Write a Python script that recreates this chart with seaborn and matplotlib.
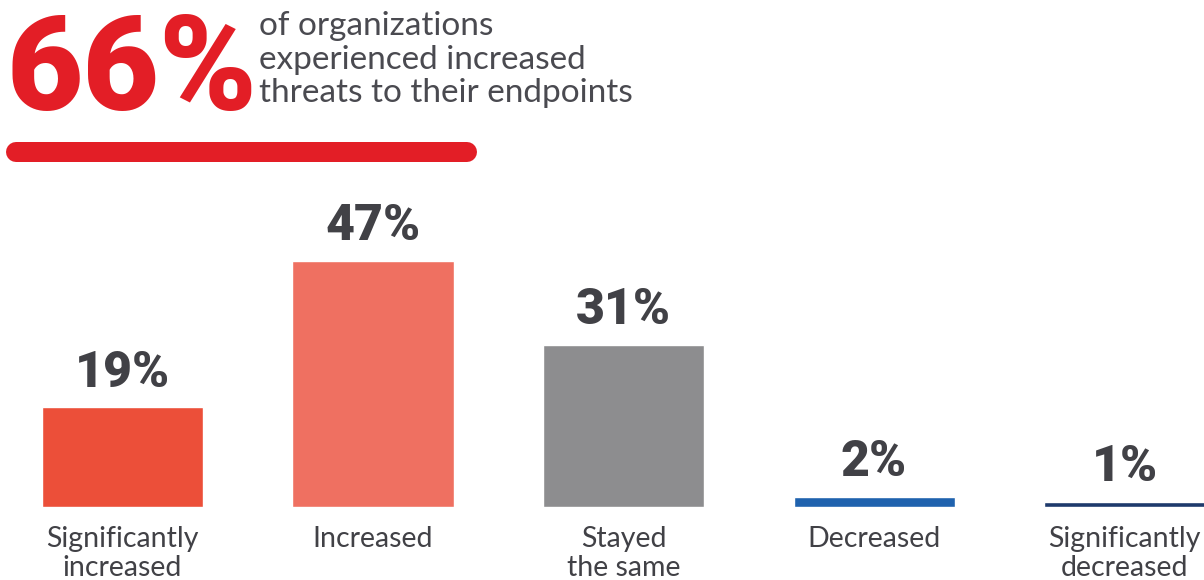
import matplotlib
matplotlib.use("Agg")
import matplotlib.pyplot as plt
from matplotlib.lines import Line2D
import seaborn as sns
import pandas as pd

# Survey answers and their shares (%)
categories = ["Significantly\nincreased", "Increased", "Stayed\nthe same",
              "Decreased", "Significantly\ndecreased"]
shares = [19, 47, 31, 2, 1]
bar_colors = ["#ec4f39", "#ef7061", "#8d8d8f", "#1f62ae", "#1e3a6c"]

headline_value = "66%"
headline_text = "of organizations\nexperienced increased\nthreats to their endpoints"

RED = "#e31e26"
INK = "#414146"

sns.set_theme(style="white")
plt.rcParams["font.family"] = ["Lato", "DejaVu Sans"]

W, H = 1204, 580
fig = plt.figure(figsize=(W / 100, H / 100), dpi=100)
fig.patch.set_facecolor("white")

# Bar panel: baseline at 507px, 307px tall
base_px = 507
panel_px = 307
ax = fig.add_axes([0, 1 - base_px / H, 1, panel_px / H])

df = pd.DataFrame({"category": categories, "share": shares})
sns.barplot(data=df, x="category", y="share", hue="category",
            palette=bar_colors, width=0.643, saturation=1,
            legend=False, ax=ax)

ax.set_ylim(0, panel_px / 5.24)
ax.set_xlim(-0.489, 4.317)
sns.despine(ax=ax, left=True, bottom=True)
ax.set_yticks([])
ax.set_xlabel("")
ax.set_ylabel("")
ax.tick_params(axis="x", length=0, pad=13.5)
for lab in ax.get_xticklabels():
    lab.set_fontsize(20.5)
    lab.set_color(INK)
    lab.set_linespacing(1.14)
    lab.set_family(["Lato", "DejaVu Sans"])

for i, v in enumerate(shares):
    ax.annotate(f"{v}%", xy=(i, v), xytext=(0, 15), textcoords="offset points",
                ha="center", va="baseline", fontsize=36, fontweight="heavy",
                color=INK, family=["Roboto", "DejaVu Sans"])

# Headline figure and its caption
fig.text(6 / W, 1 - 110 / H, headline_value, fontsize=95, fontweight="heavy",
         color=RED, ha="left", va="baseline", family=["Roboto", "DejaVu Sans"])
fig.text(259 / W, 1 - 102 / H, headline_text, fontsize=24, color="#4a4a50",
         ha="left", va="baseline", linespacing=1.14,
         family=["Lato", "DejaVu Sans"])

# Rounded red underline
fig.add_artist(Line2D([16 / W, 467 / W], [1 - 152 / H, 1 - 152 / H],
                      transform=fig.transFigure, color=RED, linewidth=14.4,
                      solid_capstyle="round"))

fig.savefig("out.png", dpi=100, facecolor="white")
